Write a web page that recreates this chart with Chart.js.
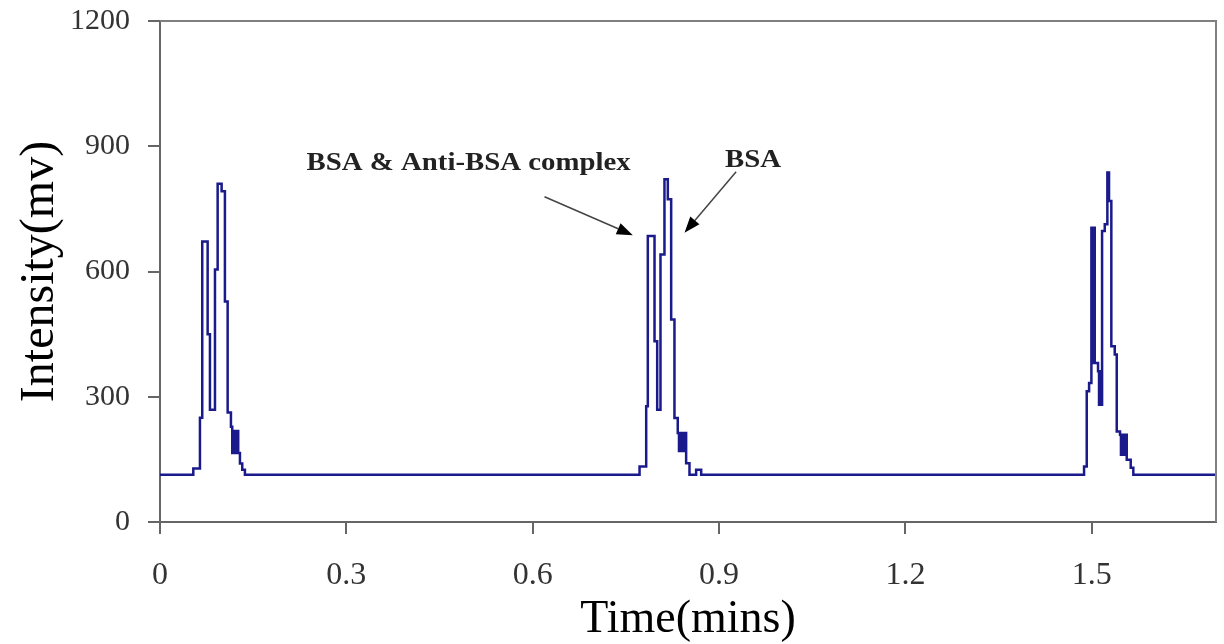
<!DOCTYPE html>
<html>
<head>
<meta charset="utf-8">
<script src="https://cdn.jsdelivr.net/npm/chart.js@4.4.0/dist/chart.umd.min.js"></script>
<style>
  html, body { margin: 0; padding: 0; background: #fff; }
  #wrap { width: 1224px; height: 644px; }
</style>
</head>
<body>
<div id="wrap"><canvas id="chart" width="1224" height="644"></canvas></div>
<script>
// tick labels
const xTicks = [0, 0.3, 0.6, 0.9, 1.2, 1.5];
const yTicks = [0, 300, 600, 900, 1200];

// trace (time in mins, intensity in mv)
// each value holds until the next time (stepped trace)
const peak1Time = [0, 0.0536, 0.0643, 0.068, 0.0767, 0.0804, 0.0885, 0.0928, 0.0992, 0.1045, 0.1089,
  0.1142, 0.1163, 0.118, 0.1195, 0.121, 0.1225, 0.124, 0.1259, 0.1287, 0.1324, 0.1367];
const peak1Mv = [113, 128, 250, 672, 450, 269, 605, 810, 792, 528, 262,
  228, 165, 218, 165, 218, 165, 218, 165, 140, 125, 113];

const peak2Time = [0.772, 0.7827, 0.7853, 0.7961, 0.8004, 0.8057, 0.8121, 0.8175, 0.8229, 0.8282,
  0.8335, 0.8355, 0.8375, 0.8395, 0.8415, 0.8435, 0.8455, 0.847, 0.8524, 0.8631, 0.8712];
const peak2Mv = [133, 277, 685, 433, 269, 641, 821, 773, 485, 249,
  213, 170, 213, 170, 213, 170, 213, 141, 113, 125, 113];

const peak3Time = [1.4876, 1.4919, 1.4957, 1.4994, 1.501, 1.5025, 1.5048, 1.5101, 1.5117, 1.5125, 1.5133,
  1.5166, 1.5209, 1.5251, 1.5278, 1.5315, 1.537, 1.5402, 1.5455, 1.547, 1.5485, 1.55, 1.5515, 1.553,
  1.5545, 1.5563, 1.5627, 1.5669, 1.7];
const peak3Mv = [133, 313, 333, 705, 381, 705, 381, 361, 281, 361, 281,
  697, 713, 837, 769, 421, 401, 217, 209, 161, 209, 161, 209, 161,
  209, 149, 130, 113, 113];

const timeMins = peak1Time.concat(peak2Time, peak3Time);
const intensityMv = peak1Mv.concat(peak2Mv, peak3Mv);

// annotation text
const labelComplex = "BSA & Anti-BSA complex";
const labelBsa = "BSA";

// draws the top/right frame, the two labels and their arrows
const extras = {
  id: "extras",
  afterDatasetsDraw(chart) {
    const { ctx, chartArea: a, scales: { x, y } } = chart;
    ctx.save();

    ctx.strokeStyle = "#808080";
    ctx.lineWidth = 2;
    ctx.beginPath();
    ctx.moveTo(a.left, a.top);
    ctx.lineTo(a.right, a.top);
    ctx.lineTo(a.right, a.bottom);
    ctx.stroke();

    // labels are a bit stretched in the original
    ctx.fillStyle = "#222";
    ctx.font = "bold 26px 'Liberation Serif'";
    ctx.textBaseline = "alphabetic";
    const sx = 324 / ctx.measureText(labelComplex).width;
    drawStretched(ctx, labelComplex, x.getPixelForValue(0.236), y.getPixelForValue(843), sx);
    drawStretched(ctx, labelBsa, x.getPixelForValue(0.9095), y.getPixelForValue(850), sx);

    arrow(ctx, x.getPixelForValue(0.619), y.getPixelForValue(779),
      x.getPixelForValue(0.7612), y.getPixelForValue(687));
    arrow(ctx, x.getPixelForValue(0.9275), y.getPixelForValue(839),
      x.getPixelForValue(0.8444), y.getPixelForValue(693));

    ctx.restore();
  },
};

function drawStretched(ctx, text, px, py, sx) {
  ctx.save();
  ctx.translate(px, py);
  ctx.scale(sx, 1);
  ctx.fillText(text, 0, 0);
  ctx.restore();
}

function arrow(ctx, x0, y0, x1, y1) {
  const ang = Math.atan2(y1 - y0, x1 - x0);
  const len = 16;
  const half = 6;
  const bx = x1 - len * Math.cos(ang);
  const by = y1 - len * Math.sin(ang);
  ctx.strokeStyle = "#444";
  ctx.lineWidth = 1.5;
  ctx.beginPath();
  ctx.moveTo(x0, y0);
  ctx.lineTo(bx, by);
  ctx.stroke();
  ctx.fillStyle = "#000";
  ctx.beginPath();
  ctx.moveTo(x1, y1);
  ctx.lineTo(bx + half * Math.sin(ang), by - half * Math.cos(ang));
  ctx.lineTo(bx - half * Math.sin(ang), by + half * Math.cos(ang));
  ctx.closePath();
  ctx.fill();
}

// keep the plot box fixed, labels may hang over the edges
function noPad(scale) {
  scale.paddingLeft = 0;
  scale.paddingRight = 0;
  scale.paddingTop = 0;
  scale.paddingBottom = 0;
}

const points = timeMins.map((t, i) => ({ x: t, y: intensityMv[i] }));

new Chart(document.getElementById("chart"), {
  type: "line",
  data: {
    datasets: [
      {
        data: points,
        stepped: true,
        borderColor: "#1a1a8c",
        borderWidth: 2.5,
        pointRadius: 0,
        fill: false,
      },
    ],
  },
  options: {
    responsive: false,
    animation: false,
    devicePixelRatio: 1,
    layout: { padding: { top: 21, right: 8, left: 0, bottom: 0 } },
    plugins: { legend: { display: false }, tooltip: { enabled: false } },
    scales: {
      x: {
        type: "linear",
        min: 0,
        max: 1.7,
        afterBuildTicks: (scale) => {
          scale.ticks = xTicks.map((v) => ({ value: v }));
        },
        afterFit: (scale) => {
          scale.height = 122;
          noPad(scale);
        },
        grid: { drawOnChartArea: false, tickLength: 12, color: "#666", lineWidth: 2 },
        border: { color: "#666", width: 2 },
        ticks: {
          callback: (v) => String(v),
          color: "#333",
          padding: 22,
          maxRotation: 0,
          font: { family: "'Liberation Serif'", size: 32 },
        },
        title: {
          display: true,
          text: "Time(mins)",
          color: "#000",
          padding: { top: 0, bottom: 1 },
          font: { family: "'Liberation Serif'", size: 46, lineHeight: 1 },
        },
      },
      y: {
        min: 0,
        max: 1200,
        afterBuildTicks: (scale) => {
          scale.ticks = yTicks.map((v) => ({ value: v }));
        },
        afterFit: (scale) => {
          scale.width = 160;
          noPad(scale);
        },
        grid: { drawOnChartArea: false, tickLength: 12, color: "#666", lineWidth: 2 },
        border: { color: "#666", width: 2 },
        ticks: {
          callback: (v) => String(v),
          color: "#333",
          padding: 18,
          font: { family: "'Liberation Serif'", size: 30 },
        },
        title: {
          display: true,
          text: "Intensity(mv)",
          color: "#000",
          padding: { top: 16, bottom: 0 },
          font: { family: "'Liberation Serif'", size: 48, lineHeight: 1 },
        },
      },
    },
  },
  plugins: [extras],
});
</script>
</body>
</html>
